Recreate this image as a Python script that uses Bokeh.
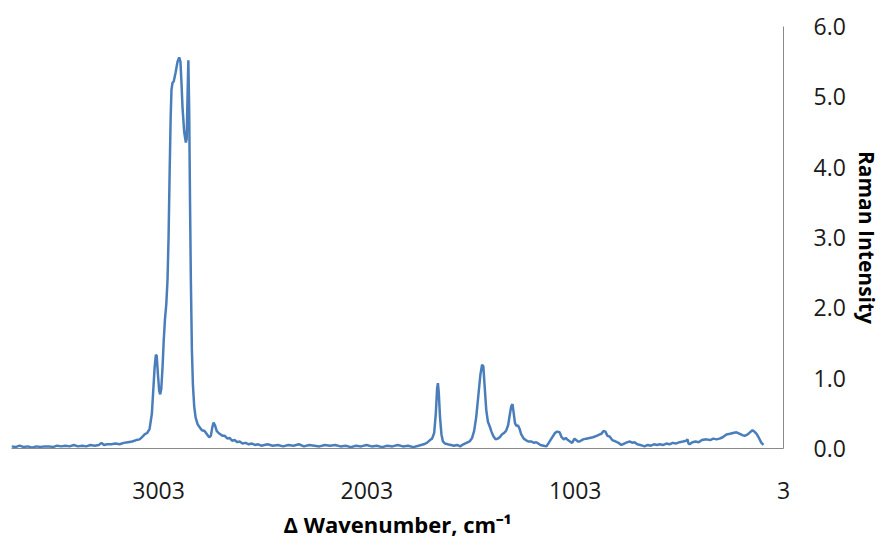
from bokeh.plotting import figure
from bokeh.models import Range1d, FixedTicker, NumeralTickFormatter, ColumnDataSource
from bokeh.embed import file_html
from bokeh.resources import INLINE

# Raman spectrum (wavenumber, intensity)
wavenumber = [
    3709, 3690, 3670, 3650, 3630, 3610, 3590, 3570, 3550, 3530, 3510, 3490, 3470, 3450,
    3430, 3410, 3390, 3370, 3350, 3330, 3310, 3290, 3277, 3265, 3250, 3230, 3210, 3190,
    3170, 3150, 3130, 3110, 3094, 3080, 3070, 3058, 3046, 3035, 3028, 3022, 3016, 3012,
    3006, 3000, 2995, 2990, 2984, 2978, 2972, 2966, 2960, 2955, 2950, 2945, 2941, 2936,
    2930, 2921, 2912, 2904, 2898, 2893, 2888, 2880, 2872, 2868, 2864, 2860, 2856, 2852,
    2848, 2843, 2838, 2832, 2825, 2815, 2805, 2795, 2782, 2770, 2760, 2752, 2745, 2739,
    2732, 2724, 2715, 2705, 2695, 2685, 2672, 2662, 2650, 2638, 2625, 2614, 2600, 2585,
    2570, 2555, 2540, 2525, 2510, 2495, 2480, 2455, 2430, 2405, 2380, 2355, 2330, 2305,
    2280, 2255, 2230, 2205, 2180, 2155, 2130, 2105, 2080, 2055, 2030, 2005, 1980, 1955,
    1930, 1905, 1880, 1855, 1830, 1805, 1780, 1755, 1730, 1715, 1700, 1690, 1680, 1672,
    1666, 1662, 1658, 1652, 1645, 1638, 1628, 1615, 1600, 1585, 1570, 1555, 1540, 1525,
    1510, 1498, 1488, 1478, 1468, 1458, 1450, 1444, 1438, 1430, 1422, 1414, 1405, 1395,
    1385, 1375, 1365, 1355, 1345, 1335, 1325, 1317, 1310, 1304, 1298, 1292, 1285, 1278,
    1270, 1262, 1250, 1240, 1228, 1215, 1200, 1190, 1180, 1170, 1155, 1141, 1130, 1115,
    1100, 1090, 1078, 1068, 1058, 1048, 1038, 1028, 1018, 1006, 990, 982, 965, 950,
    934, 918, 900, 885, 877, 867, 858, 848, 838, 825, 810, 795, 781, 768,
    752, 740, 728, 718, 705, 690, 680, 670, 655, 640, 625, 610, 598, 580,
    565, 550, 535, 520, 502, 485, 470, 464, 459, 454, 440, 425, 410, 395,
    373, 355, 340, 325, 310, 295, 277, 260, 245, 229, 215, 200, 190, 175,
    160, 152, 143, 133, 121, 109, 99,
]
intensity = [
    0.03, 0.02, 0.04, 0.02, 0.03, 0.01, 0.03, 0.02, 0.03, 0.03, 0.02, 0.04, 0.03, 0.04,
    0.03, 0.05, 0.03, 0.04, 0.03, 0.05, 0.04, 0.05, 0.08, 0.05, 0.06, 0.06, 0.07, 0.06,
    0.08, 0.09, 0.10, 0.12, 0.13, 0.17, 0.20, 0.22, 0.28, 0.50, 0.85, 1.15, 1.33, 1.32,
    1.05, 0.82, 0.77, 0.85, 1.15, 1.55, 1.85, 2.05, 2.40, 3.00, 3.90, 4.70, 5.10, 5.20,
    5.22, 5.35, 5.50, 5.56, 5.50, 5.20, 4.85, 4.50, 4.35, 4.40, 5.00, 5.52, 4.80, 3.50,
    2.40, 1.40, 0.90, 0.60, 0.44, 0.34, 0.30, 0.26, 0.25, 0.20, 0.16, 0.18, 0.30, 0.37,
    0.33, 0.25, 0.22, 0.20, 0.18, 0.18, 0.14, 0.15, 0.11, 0.12, 0.09, 0.10, 0.07, 0.08,
    0.06, 0.07, 0.05, 0.06, 0.04, 0.05, 0.06, 0.04, 0.05, 0.03, 0.05, 0.04, 0.06, 0.03,
    0.05, 0.04, 0.03, 0.05, 0.04, 0.05, 0.03, 0.04, 0.02, 0.04, 0.03, 0.05, 0.03, 0.04,
    0.02, 0.04, 0.03, 0.05, 0.03, 0.04, 0.02, 0.04, 0.06, 0.08, 0.12, 0.14, 0.22, 0.50,
    0.85, 0.93, 0.80, 0.45, 0.20, 0.10, 0.07, 0.06, 0.05, 0.04, 0.05, 0.03, 0.06, 0.08,
    0.10, 0.15, 0.25, 0.45, 0.75, 1.05, 1.19, 1.17, 0.90, 0.55, 0.38, 0.32, 0.24, 0.17,
    0.13, 0.14, 0.16, 0.20, 0.22, 0.25, 0.33, 0.48, 0.60, 0.63, 0.50, 0.36, 0.32, 0.33,
    0.28, 0.20, 0.14, 0.12, 0.10, 0.10, 0.08, 0.09, 0.07, 0.05, 0.04, 0.03, 0.08, 0.15,
    0.22, 0.24, 0.23, 0.16, 0.13, 0.15, 0.12, 0.10, 0.08, 0.14, 0.10, 0.10, 0.13, 0.14,
    0.15, 0.16, 0.18, 0.20, 0.21, 0.25, 0.24, 0.18, 0.17, 0.12, 0.10, 0.08, 0.05, 0.07,
    0.09, 0.10, 0.08, 0.09, 0.06, 0.05, 0.04, 0.03, 0.05, 0.04, 0.06, 0.05, 0.06, 0.05,
    0.07, 0.06, 0.08, 0.07, 0.09, 0.10, 0.11, 0.13, 0.07, 0.06, 0.09, 0.10, 0.09, 0.12,
    0.13, 0.12, 0.14, 0.13, 0.14, 0.16, 0.20, 0.21, 0.22, 0.23, 0.21, 0.19, 0.18, 0.20,
    0.24, 0.26, 0.24, 0.21, 0.15, 0.08, 0.05,
]
x_ticks = [3, 1003, 2003, 3003]
y_ticks = [0, 1, 2, 3, 4, 5, 6]
x_title = "\u0394 Wavenumber, cm\u207b\u00b9"
y_title = "Raman Intensity"

FONT = "Open Sans"

p = figure(
    output_backend="svg", toolbar_location=None,
    frame_width=772, frame_height=422,
    x_range=Range1d(3709, 3), y_range=Range1d(0, 6),
    y_axis_location="right",
    min_border_left=11, min_border_top=26, min_border_right=0, min_border_bottom=0,
)
p.outline_line_color = None
p.background_fill_color = "white"
p.border_fill_color = "white"
p.xgrid.visible = False
p.ygrid.visible = False

src = ColumnDataSource(dict(x=wavenumber, y=intensity))
p.line("x", "y", source=src, line_color="#4a7ebb", line_width=2.5)

for ax in (p.xaxis[0], p.yaxis[0]):
    ax.axis_line_color = "#898989"
    ax.axis_line_width = 1
    ax.major_tick_line_color = None
    ax.minor_tick_line_color = None
    ax.major_label_text_font = FONT
    ax.major_label_text_font_size = "23px"
    ax.major_label_text_color = "#1a1a1a"
    ax.axis_label_text_font = FONT
    ax.axis_label_text_font_size = "22px"
    ax.axis_label_text_font_style = "bold"
    ax.axis_label_text_color = "#000000"

p.xaxis.ticker = FixedTicker(ticks=x_ticks)
p.xaxis.major_label_standoff = 27
p.xaxis.axis_label = x_title
p.xaxis.axis_label_standoff = 7

p.yaxis.ticker = FixedTicker(ticks=y_ticks)
p.yaxis.formatter = NumeralTickFormatter(format="0.0")
p.yaxis.major_label_standoff = 24
p.yaxis.axis_label = y_title
p.yaxis.axis_label_text_font_size = "21px"
p.yaxis.axis_label_standoff = 4

open("out.html", "w").write(file_html(p, INLINE))
